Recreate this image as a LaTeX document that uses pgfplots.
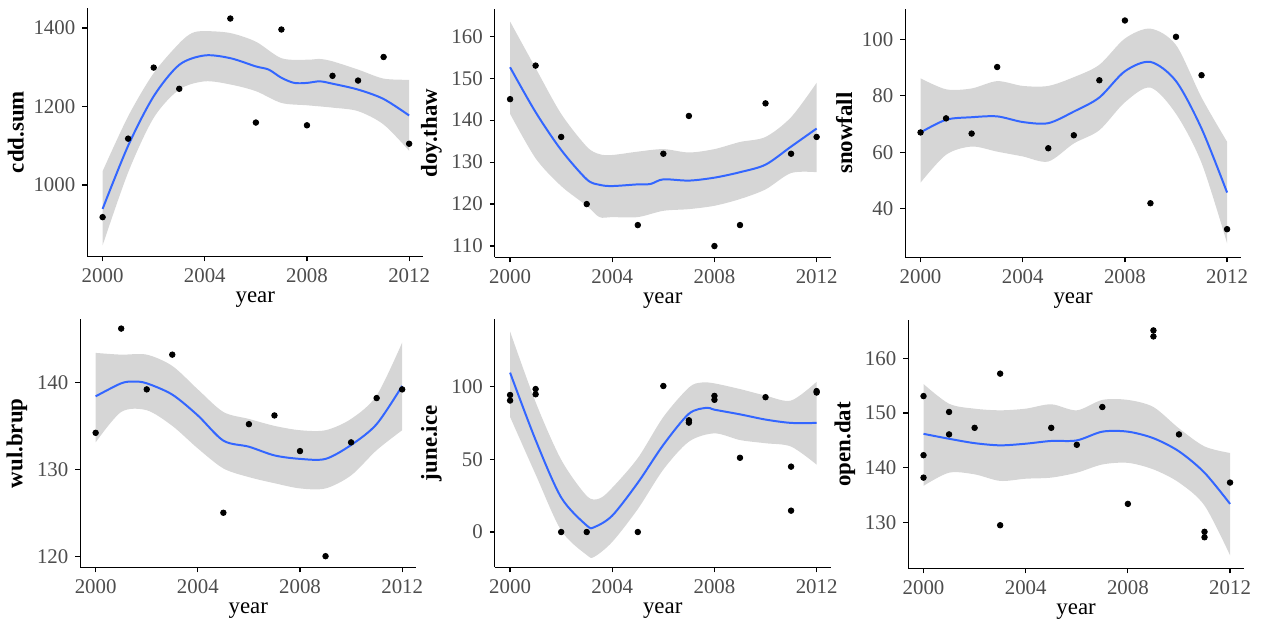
\documentclass[border=0pt]{standalone}
\usepackage{fontspec}
\setmainfont{Liberation Serif}
\usepackage{pgfplots}
\pgfplotsset{compat=1.18}
\usepgfplotslibrary{fillbetween}
\definecolor{smoothblue}{HTML}{3366FF}
\definecolor{ribbon}{HTML}{D6D6D6}
\definecolor{tickgray}{HTML}{4D4D4D}
\pgfplotsset{
  panel/.style={
    width=169pt, height=125pt, scale only axis,
    xmin=1999.4, xmax=2012.55,
    xtick={2000,2004,2008,2012},
    axis x line*=bottom, axis y line*=left,
    tick align=outside, major tick length=2.5pt,
    tick style={black, line width=0.6pt},
    axis line style={black, line width=0.7pt},
    ticklabel style={font=\fontsize{10.5}{12}\selectfont, text=tickgray},
    /pgf/number format/assume math mode=true,
    /pgf/number format/1000 sep={},
    xlabel={year},
    xlabel style={font=\fontsize{11.5}{13}\selectfont, yshift=2pt},
    ylabel style={font=\bfseries\fontsize{11.5}{13}\selectfont, yshift=-2pt},
  },
  band/.style={draw=none, smooth, tension=0.5, forget plot},
  fit/.style={smoothblue, line width=1pt, smooth, tension=0.5},
  pts/.style={only marks, mark=*, mark size=1.4pt, black},
}
\begin{document}
\begin{tikzpicture}

% cdd.sum
\begin{axis}[panel, at={(40pt,183.5pt)}, anchor=south west,
  ymin=818, ymax=1451, ytick={1000,1200,1400}, ylabel={cdd.sum}]
\addplot[band, name path=up] coordinates {(2000,1035)(2001,1175)(2002,1285)(2003,1361)(2003.5,1387)(2004,1392)(2005,1387)(2006,1365)(2007,1323)(2008,1319)(2008.5,1321)(2009,1315)(2010,1294)(2011,1271)(2012,1268)};
\addplot[band, name path=lo] coordinates {(2000,846)(2001,1032)(2002,1171)(2003,1243)(2004,1264)(2005,1256)(2006,1239)(2007,1209)(2008,1203)(2009,1197)(2010,1188)(2011,1154)(2012,1087)};
\addplot[ribbon, draw=none] fill between[of=up and lo];
\addplot[fit] coordinates {(2000,939)(2001,1100)(2002,1226)(2003,1306)(2004,1330)(2005,1323)(2006,1302)(2006.5,1294)(2007,1273)(2007.5,1260)(2008,1260)(2008.5,1264)(2009,1258)(2010,1243)(2011,1219)(2012,1177)};
\addplot[pts] coordinates {(2000,918)(2001,1118)(2002,1299)(2003,1245)(2005,1424)(2006,1159)(2007,1396)(2008,1152)(2009,1278)(2010,1266)(2011,1326)(2012,1105)};
\end{axis}

% doy.thaw
\begin{axis}[panel, at={(245pt,183pt)}, anchor=south west,
  ymin=107.3, ymax=166.5, ytick={110,120,...,160}, ylabel={doy.thaw}]
\addplot[band, name path=up] coordinates {(2000,163.5)(2001,152.4)(2002,141.5)(2003,133.7)(2003.5,131.9)(2004,131.7)(2005,132.5)(2006,133.1)(2007,132.3)(2008,133.1)(2009,134.8)(2010,136)(2011,140.7)(2012,148.9)};
\addplot[band, name path=lo] coordinates {(2000,141.5)(2001,130.9)(2002,124.3)(2003,119.6)(2003.5,116.9)(2004,116.9)(2005,116.9)(2006,118.4)(2007,118.8)(2008,119.6)(2009,121.2)(2010,123.5)(2011,127.4)(2012,127.6)};
\addplot[ribbon, draw=none] fill between[of=up and lo];
\addplot[fit] coordinates {(2000,152.6)(2001,141.9)(2002,132.9)(2003,125.9)(2003.5,124.6)(2004,124.3)(2005,124.7)(2005.5,124.8)(2006,125.9)(2007,125.6)(2008,126.3)(2009,127.6)(2010,129.4)(2011,133.7)(2012,138)};
\addplot[pts] coordinates {(2000,145)(2001,153)(2002,136)(2003,120)(2005,115)(2006,132)(2007,141)(2008,110)(2009,115)(2010,144)(2011,132)(2012,136)};
\end{axis}

% snowfall
\begin{axis}[panel, at={(451.5pt,183pt)}, anchor=south west,
  ymin=22.7, ymax=110.8, ytick={40,60,80,100}, ylabel={snowfall}]
\addplot[band, name path=up] coordinates {(2000,86.2)(2001,82.3)(2002,82.6)(2003,85.2)(2004,83.5)(2005,83.5)(2006,86.6)(2007,91)(2008,100.3)(2009,103.8)(2010,98)(2011,79.4)(2012,63.7)};
\addplot[band, name path=lo] coordinates {(2000,49.2)(2001,59.1)(2002,62)(2003,60.2)(2004,58.5)(2005,56.7)(2006,63.1)(2007,67.8)(2008,77.7)(2009,82.9)(2010,73.6)(2011,56.2)(2012,27.7)};
\addplot[ribbon, draw=none] fill between[of=up and lo];
\addplot[fit] coordinates {(2000,67)(2001,71.5)(2002,72.4)(2003,72.7)(2004,70.7)(2005,70.3)(2006,74.4)(2007,79.4)(2008,88.7)(2009,92)(2010,85.2)(2011,68.4)(2012,45.7)};
\addplot[pts] coordinates {(2000,67)(2001,72)(2002,66.6)(2003,90.2)(2005,61.4)(2006,66)(2007,85.5)(2008,106.7)(2009,41.9)(2010,100.9)(2011,87.3)(2012,32.7)};
\end{axis}

% wul.brup
\begin{axis}[panel, at={(36.5pt,27pt)}, anchor=south west,
  ymin=118.7, ymax=147.3, ytick={120,130,140}, ylabel={wul.brup}]
\addplot[band, name path=up] coordinates {(2000,143.4)(2001,143.2)(2002,143.2)(2003,141.9)(2004,139.2)(2005,136.6)(2006,135.8)(2007,135)(2008,134.5)(2009,134.5)(2010,135.8)(2011,138.5)(2012,144.6)};
\addplot[band, name path=lo] coordinates {(2000,133.1)(2001,136.6)(2002,136.8)(2003,135)(2004,132.4)(2005,130.1)(2006,129.1)(2007,128.4)(2008,127.8)(2009,127.8)(2010,129.3)(2011,132.2)(2012,134.5)};
\addplot[ribbon, draw=none] fill between[of=up and lo];
\addplot[fit] coordinates {(2000,138.4)(2001,139.9)(2001.5,140.1)(2002,139.9)(2003,138.6)(2004,136.2)(2005,133.3)(2006,132.6)(2007,131.6)(2008,131.2)(2009,131.2)(2010,132.8)(2011,135.2)(2012,139.6)};
\addplot[pts] coordinates {(2000,134.2)(2001,146.2)(2002,139.2)(2003,143.2)(2005,125)(2006,135.2)(2007,136.2)(2008,132.1)(2009,120)(2010,133.1)(2011,138.2)(2012,139.2)};
\end{axis}

% june.ice
\begin{axis}[panel, at={(245pt,27pt)}, anchor=south west,
  ymin=-24.4, ymax=146.6, ytick={0,50,100}, ylabel={june.ice}]
\addplot[band, name path=up] coordinates {(2000,138)(2001,89.4)(2002,49.8)(2003,24.9)(2003.5,23.1)(2004,30.5)(2005,50.9)(2006,79.2)(2007,99.5)(2007.5,102.9)(2008,102.3)(2009,98.4)(2010,93.9)(2011,90.5)(2012,103.4)};
\addplot[band, name path=lo] coordinates {(2000,79.2)(2001,39.6)(2002,1.1)(2003,-15.8)(2003.3,-17)(2004,-6.8)(2005,15.8)(2006,43)(2007,62.2)(2008,67.9)(2009,63.3)(2010,61.1)(2011,58.8)(2012,46.4)};
\addplot[ribbon, draw=none] fill between[of=up and lo];
\addplot[fit] coordinates {(2000,109.7)(2001,63.3)(2002,23.8)(2003,4.5)(2003.3,3.4)(2004,11.3)(2005,33.9)(2006,60)(2007,81.4)(2007.7,85.5)(2008,84.2)(2009,81)(2010,77.4)(2011,75.1)(2012,75.1)};
\addplot[pts] coordinates {(2000,94.3)(2000,90.5)(2001,98.4)(2001,94.8)(2002,0)(2003,0)(2005,0)(2006,100.5)(2007,76.9)(2007,75.3)(2008,93.7)(2008,91)(2009,51.1)(2010,92.8)(2011,45)(2011,14.7)(2012,97)(2012,96)};
\end{axis}

% open.dat
\begin{axis}[panel, at={(453pt,26.5pt)}, anchor=south west,
  ymin=121.6, ymax=167, ytick={130,140,150,160}, ylabel={open.dat}]
\addplot[band, name path=up] coordinates {(2000,155.3)(2001,151.7)(2002,150.8)(2003,150.5)(2004,150.8)(2005,151.6)(2006,150.5)(2007,152.4)(2008,152.4)(2009,151.1)(2010,147.2)(2011,143.9)(2012,142.7)};
\addplot[band, name path=lo] coordinates {(2000,136.7)(2001,139.1)(2002,138.8)(2003,137.6)(2004,138)(2005,138.2)(2006,139.1)(2007,140.6)(2008,140.9)(2009,139.7)(2010,137.3)(2011,133.1)(2012,124)};
\addplot[ribbon, draw=none] fill between[of=up and lo];
\addplot[fit] coordinates {(2000,146.2)(2001,145.3)(2002,144.5)(2003,144.1)(2004,144.4)(2005,144.9)(2006,145)(2007,146.6)(2008,146.6)(2009,145.4)(2010,143)(2011,139.1)(2012,133.4)};
\addplot[pts] coordinates {(2000,153.1)(2000,142.3)(2000,138.2)(2001,150.2)(2001,146.1)(2002,147.3)(2003,157.2)(2003,129.5)(2005,147.3)(2006,144.2)(2007,151.1)(2008,133.4)(2009,165.1)(2009,164)(2010,146.1)(2011,128.3)(2011,127.3)(2012,137.3)};
\end{axis}

\path (0,0) rectangle (631pt,312.5pt);
\end{tikzpicture}
\end{document}
